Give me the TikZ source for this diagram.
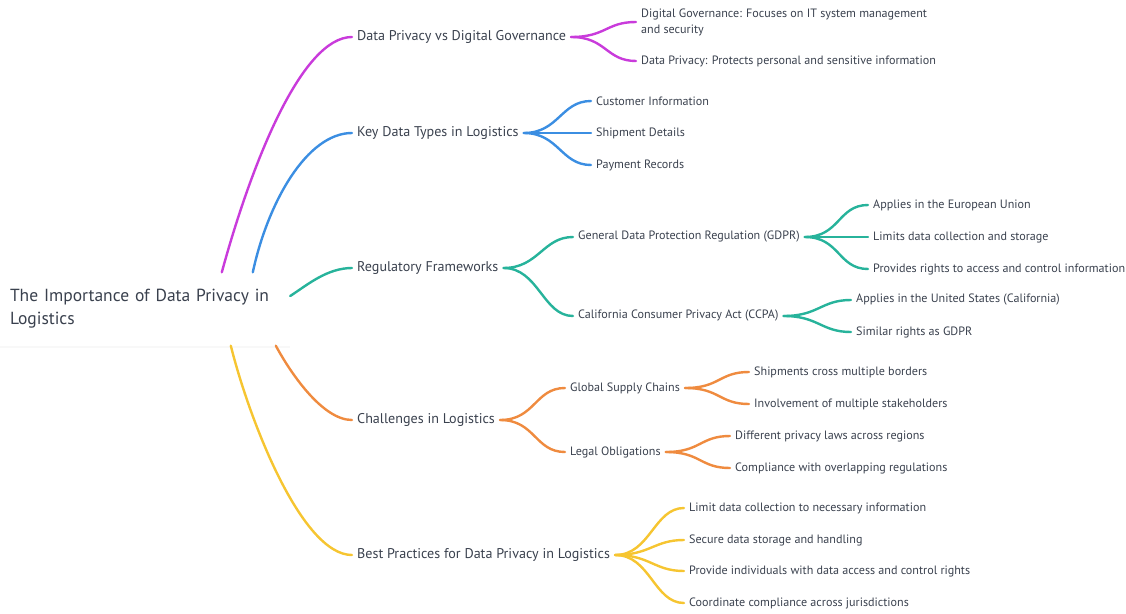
\documentclass[tikz,border=0pt]{standalone}
\usepackage{fontspec}
\setmainfont{PT Sans}
\usetikzlibrary{positioning,shadows}

\definecolor{txt}{HTML}{3A414E}
\definecolor{cpurple}{HTML}{C93BDB}
\definecolor{cblue}{HTML}{3B8EE2}
\definecolor{cgreen}{HTML}{27B39B}
\definecolor{corange}{HTML}{EF8B3F}
\definecolor{cyellow}{HTML}{F6C531}

\begin{document}
\begin{tikzpicture}[x=1pt, y=-1pt,
root/.style={align=left, text width=270pt, inner xsep=10pt, minimum height=73pt, fill=white, text=txt, font=\fontsize{17.5}{23}\selectfont, drop shadow={opacity=0.06, shadow xshift=0pt, shadow yshift=-2pt}},
topic/.style={anchor=west, inner xsep=5pt, inner ysep=1pt, text=txt, font=\fontsize{14.1}{16}\selectfont},
leaf/.style={anchor=west, align=left, inner xsep=5pt, inner ysep=1pt, text=txt, font=\fontsize{12.1}{16}\selectfont},
link/.style={draw=#1, line width=2.4pt, line cap=round}
]
\useasboundingbox (0,0) rectangle (1126,613);

\node[root] (imp) at (145,309) {The Importance of Data Privacy in\\Logistics};

% first level
\node[topic] (gov) at (352,37) {Data Privacy vs Digital Governance};
\node[topic] (types) at (352,133) {Key Data Types in Logistics};
\node[topic] (reg) at (352,268) {Regulatory Frameworks};
\node[topic] (chal) at (352,420) {Challenges in Logistics};
\node[topic] (best) at (352,555) {Best Practices for Data Privacy in Logistics};

\draw[link=cpurple] ([xshift=222pt]imp.north west) .. controls +(30,-110) and +(-50,0) .. (gov.west);
\draw[link=cblue] ([xshift=253pt]imp.north west) .. controls +(15,-70) and +(-45,0) .. (types.west);
\draw[link=cgreen] ([yshift=13pt]imp.east) .. controls +(17,-11) and +(-25,0) .. (reg.west);
\draw[link=corange] ([xshift=276pt]imp.south west) .. controls +(14,26) and +(-30,0) .. (chal.west);
\draw[link=cyellow] ([xshift=231pt]imp.south west) .. controls +(19,76) and +(-50,0) .. (best.west);

% governance
\node[leaf] (gov1) at (636,22) {Digital Governance: Focuses on IT system management\\and security};
\node[leaf] (gov2) at (636,61) {Data Privacy: Protects personal and sensitive information};
\draw[link=cpurple] (gov.east) .. controls +(35,0) and +(-30,0) .. (gov1.west);
\draw[link=cpurple] (gov.east) .. controls +(35,0) and +(-30,0) .. (gov2.west);

% data types
\node[leaf] (types1) at (591,101) {Customer Information};
\node[leaf] (types2) at (591,133) {Shipment Details};
\node[leaf] (types3) at (591,165) {Payment Records};
\draw[link=cblue] (types.east) .. controls +(35,0) and +(-30,0) .. (types1.west);
\draw[link=cblue] (types.east) -- (types2.west);
\draw[link=cblue] (types.east) .. controls +(35,0) and +(-30,0) .. (types3.west);

% frameworks
\node[leaf] (gdpr) at (573,237) {General Data Protection Regulation (GDPR)};
\node[leaf] (ccpa) at (573,316) {California Consumer Privacy Act (CCPA)};
\draw[link=cgreen] (reg.east) .. controls +(35,0) and +(-30,0) .. (gdpr.west);
\draw[link=cgreen] (reg.east) .. controls +(35,0) and +(-30,0) .. (ccpa.west);

\node[leaf] (gdpr1) at (868,205) {Applies in the European Union};
\node[leaf] (gdpr2) at (868,237) {Limits data collection and storage};
\node[leaf] (gdpr3) at (868,269) {Provides rights to access and control information};
\draw[link=cgreen] (gdpr.east) .. controls +(35,0) and +(-30,0) .. (gdpr1.west);
\draw[link=cgreen] (gdpr.east) -- (gdpr2.west);
\draw[link=cgreen] (gdpr.east) .. controls +(35,0) and +(-30,0) .. (gdpr3.west);

\node[leaf] (ccpa1) at (851,300) {Applies in the United States (California)};
\node[leaf] (ccpa2) at (851,332) {Similar rights as GDPR};
\draw[link=cgreen] (ccpa.east) .. controls +(35,0) and +(-30,0) .. (ccpa1.west);
\draw[link=cgreen] (ccpa.east) .. controls +(35,0) and +(-30,0) .. (ccpa2.west);

% challenges
\node[leaf] (glob) at (565,388) {Global Supply Chains};
\node[leaf] (legal) at (565,452) {Legal Obligations};
\draw[link=corange] (chal.east) .. controls +(35,0) and +(-30,0) .. (glob.west);
\draw[link=corange] (chal.east) .. controls +(35,0) and +(-30,0) .. (legal.west);

\node[leaf] (glob1) at (749,372) {Shipments cross multiple borders};
\node[leaf] (glob2) at (749,404) {Involvement of multiple stakeholders};
\draw[link=corange] (glob.east) .. controls +(35,0) and +(-30,0) .. (glob1.west);
\draw[link=corange] (glob.east) .. controls +(35,0) and +(-30,0) .. (glob2.west);

\node[leaf] (legal1) at (730,436) {Different privacy laws across regions};
\node[leaf] (legal2) at (730,468) {Compliance with overlapping regulations};
\draw[link=corange] (legal.east) .. controls +(35,0) and +(-30,0) .. (legal1.west);
\draw[link=corange] (legal.east) .. controls +(35,0) and +(-30,0) .. (legal2.west);

% best practices
\node[leaf] (best1) at (684,508) {Limit data collection to necessary information};
\node[leaf] (best2) at (684,540) {Secure data storage and handling};
\node[leaf] (best3) at (684,571) {Provide individuals with data access and control rights};
\node[leaf] (best4) at (684,603) {Coordinate compliance across jurisdictions};
\draw[link=cyellow] (best.east) .. controls +(35,0) and +(-30,0) .. (best1.west);
\draw[link=cyellow] (best.east) .. controls +(35,0) and +(-30,0) .. (best2.west);
\draw[link=cyellow] (best.east) .. controls +(35,0) and +(-30,0) .. (best3.west);
\draw[link=cyellow] (best.east) .. controls +(35,0) and +(-30,0) .. (best4.west);
\end{tikzpicture}
\end{document}
